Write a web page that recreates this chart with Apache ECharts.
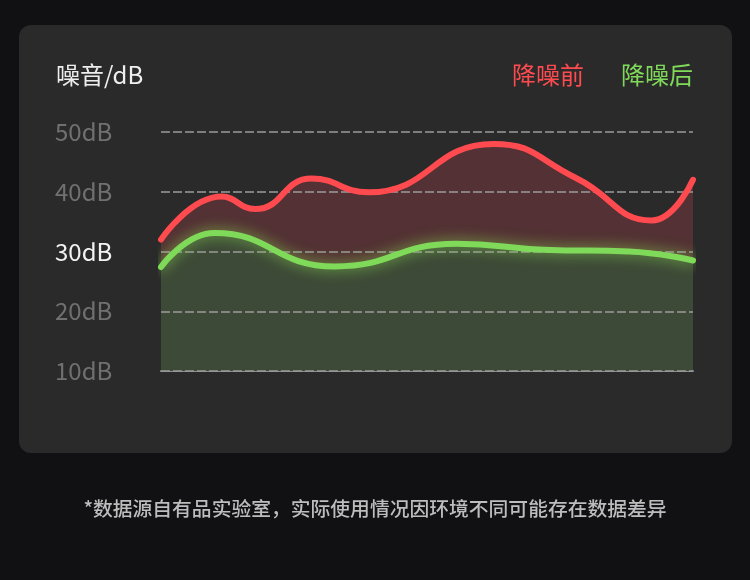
<!DOCTYPE html>
<html><head><meta charset="utf-8">
<script src="https://cdn.jsdelivr.net/npm/echarts@6/dist/echarts.min.js"></script>
<style>html,body{margin:0;padding:0;background:#111113;}#c{width:750px;height:580px;}</style>
</head><body><div id="c"></div>
<script>
// data
var yTicks = [10, 20, 30, 40, 50];
var seriesNames = ['降噪前', '降噪后'];
var beforeX = [0, 11.4, 17.7, 28.3, 39.0, 62.5, 78.0, 92.2, 100];
var beforeY = [32.0, 39.2, 37.1, 42.2, 39.9, 48.0, 42.3, 35.2, 42.0];
var afterX = [0, 10.1, 32.7, 55.5, 72.0, 88.0, 100];
var afterY = [27.4, 33.1, 27.5, 31.3, 30.3, 30.0, 28.5];

function pairs(xs, ys) { return xs.map(function (x, i) { return [x, ys[i]]; }); }
var beforeData = pairs(beforeX, beforeY);
var afterData = pairs(afterX, afterY);

var RED = '#ff4b4f', GREEN = '#80da5a';
var chart = echarts.init(document.getElementById('c'), null, {renderer: 'canvas'});
var FONT = '"Noto Sans CJK SC", "Noto Sans", sans-serif';
chart.setOption({
  backgroundColor: '#111113',
  animation: false,
  textStyle: {fontFamily: FONT},
  graphic: [
    {type: 'rect', z: -10, silent: true, shape: {x: 19, y: 25, width: 713, height: 428, r: 12}, style: {fill: '#2a2a2a'}},
    {type: 'text', z: 10, left: 'center', top: 499, style: {text: '*数据源自有品实验室，实际使用情况因环境不同可能存在数据差异', fill: '#bdbdbd', font: '500 19.8px ' + FONT}}
  ],
  title: {text: '噪音/dB', left: 51, top: 58, textStyle: {color: '#eeeeee', fontSize: 24, fontWeight: 'normal', fontFamily: FONT}},
  legend: {
    right: 57, top: 63, padding: 0, icon: 'none', itemWidth: 0, itemHeight: 0, itemGap: 32,
    textStyle: {fontSize: 24, fontFamily: FONT, padding: 0},
    data: [
      {name: seriesNames[0], textStyle: {color: RED}},
      {name: seriesNames[1], textStyle: {color: GREEN}}
    ]
  },
  grid: {left: 161, right: 57, top: 132, bottom: 209},
  xAxis: {
    type: 'value', min: 0, max: 100,
    axisLine: {show: true, lineStyle: {color: '#8e8e8e', width: 2}},
    axisTick: {show: false}, axisLabel: {show: false}, splitLine: {show: false}
  },
  yAxis: {
    type: 'value', min: yTicks[0], max: yTicks[yTicks.length - 1], interval: 10, z: 1.5,
    axisLine: {show: false}, axisTick: {show: false},
    axisLabel: {
      align: 'left', margin: 106, fontSize: 24, fontFamily: FONT,
      formatter: '{value}dB',
      color: function (v) { return Number(v) === 30 ? '#f2f2f2' : '#707070'; }
    },
    splitLine: {show: true, lineStyle: {color: '#9a9a9a', width: 1.5, type: [9, 3]}}
  },
  series: [
    {name: seriesNames[0], type: 'line', z: 1, smooth: true, symbol: 'none', data: beforeData,
     lineStyle: {width: 0}, areaStyle: {color: '#533134', opacity: 1}, silent: true},
    {name: seriesNames[1], type: 'line', z: 1.2, smooth: true, symbol: 'none', data: afterData,
     lineStyle: {width: 0}, areaStyle: {color: '#3d4a37', opacity: 1}, silent: true},
    {name: seriesNames[0], type: 'line', z: 3, smooth: true, symbol: 'none', data: beforeData,
     lineStyle: {width: 6, color: RED, cap: 'round'}, itemStyle: {color: RED}},
    {name: seriesNames[1], type: 'line', z: 4, smooth: true, symbol: 'none', data: afterData,
     lineStyle: {width: 6, color: GREEN, cap: 'round', shadowColor: 'rgba(140,220,80,0.8)', shadowBlur: 14},
     itemStyle: {color: GREEN}}
  ]
});
</script></body></html>
